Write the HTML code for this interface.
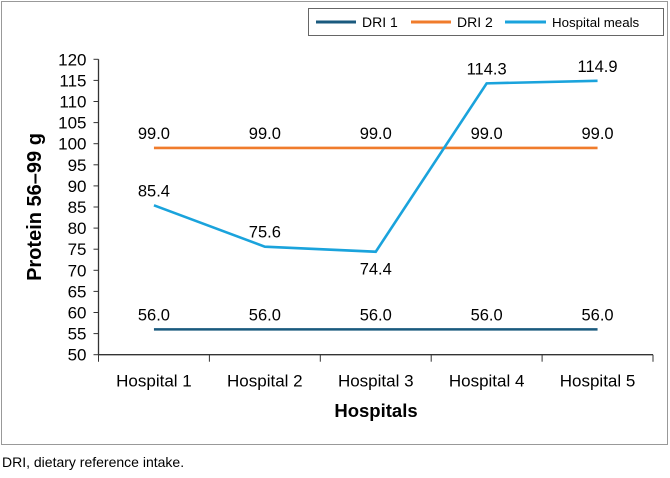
<!DOCTYPE html>
<html><head><meta charset="utf-8"><style>
body{margin:0;background:#fff;}
svg text{font-family:"Liberation Sans",sans-serif;}
</style></head><body>
<svg width="670" height="473" xmlns="http://www.w3.org/2000/svg">
<rect x="1.5" y="1.5" width="666" height="443" fill="#fff" stroke="#999"/>
<g id="legend">
<rect x="308.5" y="8.5" width="355" height="27" fill="#fff" stroke="#666"/>
<line x1="316" y1="22" x2="356" y2="22" stroke="#1a5a7e" stroke-width="3"/>
<text x="362" y="27" font-size="14">DRI 1</text>
<line x1="411" y1="22" x2="451" y2="22" stroke="#f07c2c" stroke-width="3"/>
<text x="457" y="27" font-size="14">DRI 2</text>
<line x1="505" y1="22" x2="546" y2="22" stroke="#1aa3dc" stroke-width="3"/>
<text x="552" y="27" font-size="13.3">Hospital meals</text>
</g>
<g id="plot"></g>
<text x="0" y="0" font-size="20" font-weight="bold" text-anchor="middle" transform="translate(41,207) rotate(-90)">Protein 56–99 g</text>
<text x="376" y="417" font-size="18.5" font-weight="bold" text-anchor="middle">Hospitals</text>
<text x="2" y="467" font-size="14">DRI, dietary reference intake.</text>
</svg>
<script>
const categories=["Hospital 1","Hospital 2","Hospital 3","Hospital 4","Hospital 5"];
const dri1=[56.0,56.0,56.0,56.0,56.0];
const dri2=[99.0,99.0,99.0,99.0,99.0];
const meals=[85.4,75.6,74.4,114.3,114.9];
const yTicks=[50,55,60,65,70,75,80,85,90,95,100,105,110,115,120];
const NS="http://www.w3.org/2000/svg";
const g=document.getElementById('plot');
const x0=98.5,x1=653,yMin=50,yMax=120,yTop=59.3,yBot=354.7;
const bw=(x1-x0)/categories.length;
const xs=i=>x0+bw*(i+0.5);
const ys=v=>yBot-(v-yMin)/(yMax-yMin)*(yBot-yTop);
function mk(t,a){const e=document.createElementNS(NS,t);for(const k in a)e.setAttribute(k,a[k]);g.appendChild(e);return e;}
let ax=mk('line',{x1:x0,y1:yTop,x2:x0,y2:yBot,stroke:'#333','stroke-width':1.3});


let bx=mk('line',{x1:x0,y1:yBot,x2:x1,y2:yBot,stroke:'#333','stroke-width':1.3});


yTicks.forEach(v=>{
 mk('line',{x1:x0-5,y1:ys(v),x2:x0,y2:ys(v),stroke:'#333'});
 const t=mk('text',{x:x0-12,y:ys(v)+6,'font-size':17,'text-anchor':'end'});t.textContent=v;
 
 
});
for(let i=0;i<=categories.length;i++)mk('line',{x1:x0+bw*i,y1:yBot,x2:x0+bw*i,y2:yBot+7,stroke:'#333'});
categories.forEach((c,i)=>{
 const t=mk('text',{x:xs(i),y:yBot+32,'font-size':17,'text-anchor':'middle'});t.textContent=c;
 
 
});
function series(vals,color,name,labelDy){
 const p=mk('polyline',{points:vals.map((v,i)=>xs(i)+','+ys(v)).join(' '),fill:'none',stroke:color,'stroke-width':2.6});
 
 
 vals.forEach((v,i)=>{
  const t=mk('text',{x:xs(i),y:ys(v)+labelDy(i),'font-size':16.5,'text-anchor':'middle'});t.textContent=v.toFixed(1);
  
  
 });
}
series(dri1,'#1a5a7e','dri1-line',()=>-9);
series(dri2,'#f07c2c','dri2-line',()=>-9);
series(meals,'#1aa3dc','hospital-meals-line',i=>i===2?23:-9);
</script>
</body></html>
